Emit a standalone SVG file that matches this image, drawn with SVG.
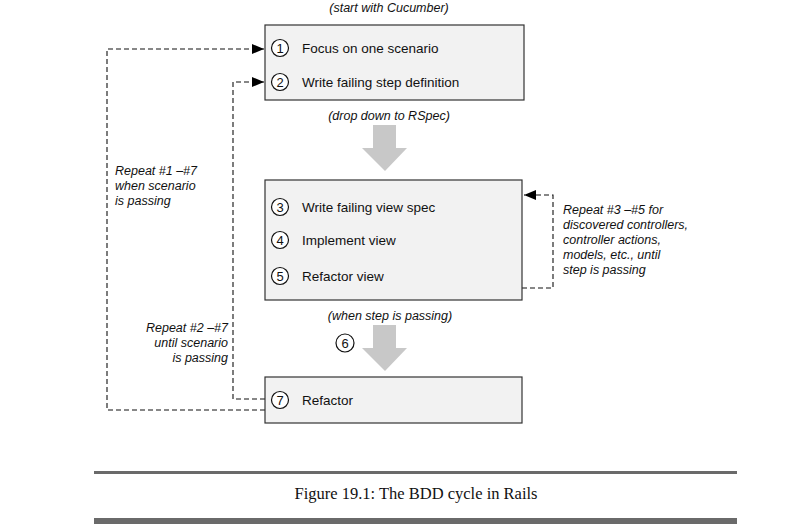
<svg xmlns="http://www.w3.org/2000/svg" width="791" height="526" viewBox="0 0 791 526">
<style>
.box{fill:#f2f2f2;stroke:#333;stroke-width:1.2}
.num{fill:#fff;stroke:#111;stroke-width:1.2}
.nt{font-family:"Liberation Sans",Arial,sans-serif;font-size:13px;fill:#111;text-anchor:middle}
.lbl{font-family:"Liberation Sans",Arial,sans-serif;font-size:13.5px;fill:#111}
.it{font-family:"Liberation Sans",Arial,sans-serif;font-size:12.5px;font-style:italic;fill:#111}
.dash{fill:none;stroke:#111;stroke-width:1.1;stroke-dasharray:5 3}
.big{fill:#c8c8c8}
.rule{fill:#6a6a6a}
.cap{font-family:"Liberation Serif","Times New Roman",serif;font-size:16.5px;fill:#111;text-anchor:middle}
</style>
<defs>
<marker id="ah" markerWidth="12" markerHeight="10" refX="12" refY="5" orient="auto" markerUnits="userSpaceOnUse">
<path d="M0,0 L12,5 L0,10 Z" fill="#000"/>
</marker>
</defs>
<rect width="791" height="526" fill="#fff"/>

<g id="connectors">
<path class="dash" d="M265,410 L107,410 L107,49 L264,49" marker-end="url(#ah)"/>
<path class="dash" d="M265,399 L233,399 L233,82 L264,82" marker-end="url(#ah)"/>
<path class="dash" d="M522,288 L553,288 L553,195 L524,195" marker-end="url(#ah)"/>
<path class="big" d="M373,125 L396,125 L396,148 L407,148 L385,171 L362,148 L373,148 Z"/>
<path class="big" d="M373,325 L396,325 L396,348 L407,348 L385,371 L362,348 L373,348 Z"/>
</g>

<g id="labels">
<text class="it" x="389" y="12" text-anchor="middle">(start with Cucumber)</text>
<text class="it" x="389" y="120" text-anchor="middle">(drop down to RSpec)</text>
<text class="it" x="390" y="320" text-anchor="middle">(when step is passing)</text>
<text class="it" x="115" y="175">Repeat #1 –#7</text>
<text class="it" x="115" y="190">when scenario</text>
<text class="it" x="115" y="205">is passing</text>
<text class="it" x="228" y="332" text-anchor="end">Repeat #2 –#7</text>
<text class="it" x="228" y="347" text-anchor="end">until scenario</text>
<text class="it" x="228" y="362" text-anchor="end">is passing</text>
<text class="it" x="563" y="214">Repeat #3 –#5 for</text>
<text class="it" x="563" y="229">discovered controllers,</text>
<text class="it" x="563" y="244">controller actions,</text>
<text class="it" x="563" y="259">models, etc., until</text>
<text class="it" x="563" y="274">step is passing</text>
</g>

<g id="box-cucumber">
<rect class="box" x="265" y="25" width="259" height="75"/>
<circle class="num" cx="280" cy="48" r="8.5"/>
<text class="nt" x="280" y="52.5">1</text>
<text class="lbl" x="302" y="53">Focus on one scenario</text>
<circle class="num" cx="280" cy="82" r="8.5"/>
<text class="nt" x="280" y="86.5">2</text>
<text class="lbl" x="302" y="87">Write failing step definition</text>
</g>

<g id="box-rspec">
<rect class="box" x="265" y="180" width="257" height="120"/>
<circle class="num" cx="280" cy="207" r="8.5"/>
<text class="nt" x="280" y="211.5">3</text>
<text class="lbl" x="302" y="212">Write failing view spec</text>
<circle class="num" cx="280" cy="240" r="8.5"/>
<text class="nt" x="280" y="244.5">4</text>
<text class="lbl" x="302" y="245">Implement view</text>
<circle class="num" cx="280" cy="276" r="8.5"/>
<text class="nt" x="280" y="280.5">5</text>
<text class="lbl" x="302" y="281">Refactor view</text>
</g>

<g id="step6">
<circle class="num" cx="345" cy="343" r="9"/>
<text class="nt" x="345" y="347.5">6</text>
</g>

<g id="box-refactor">
<rect class="box" x="265" y="377" width="257" height="46"/>
<circle class="num" cx="280" cy="400" r="8.5"/>
<text class="nt" x="280" y="404.5">7</text>
<text class="lbl" x="302" y="405">Refactor</text>
</g>

<g id="caption">
<rect class="rule" x="94" y="471" width="643" height="3"/>
<text class="cap" x="416" y="499">Figure 19.1: The BDD cycle in Rails</text>
<rect class="rule" x="94" y="518" width="643" height="6"/>
</g>
</svg>
